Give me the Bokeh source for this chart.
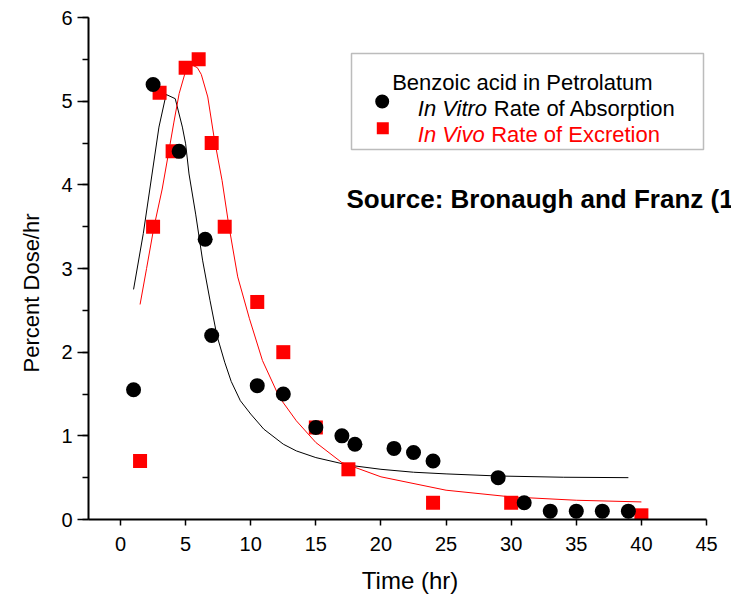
from bokeh.plotting import figure
from bokeh.models import Range1d, SingleIntervalTicker, Label, BoxAnnotation
from bokeh.embed import file_html
from bokeh.resources import INLINE

# ---- data ----
vitro_time = [1, 2.5, 4.5, 6.5, 7, 10.5, 12.5, 15, 17, 18, 21, 22.5, 24, 29, 31, 33, 35, 37, 39]
vitro_rate = [1.55, 5.2, 4.4, 3.35, 2.2, 1.6, 1.5, 1.1, 1.0, 0.9, 0.85, 0.8, 0.7, 0.5, 0.2, 0.1, 0.1, 0.1, 0.1]

vivo_time = [1.5, 2.5, 3, 4, 5, 6, 7, 8, 10.5, 12.5, 15, 17.5, 24, 30, 40]
vivo_rate = [0.7, 3.5, 5.1, 4.4, 5.4, 5.5, 4.5, 3.5, 2.6, 2.0, 1.1, 0.6, 0.2, 0.2, 0.05]

vitro_fit_time = [1.0, 1.75, 2.95, 3.5, 4.2, 4.75, 5.0, 5.26, 5.77, 6.3, 6.87, 7.4, 8.0, 8.5, 9.2,
                  10.0, 11.0, 12.5, 13.5, 15.0, 17.5, 20.0, 22.5, 25.0, 29.0, 34.0, 39.0]
vitro_fit_rate = [2.75, 3.42, 4.69, 5.08, 5.03, 4.69, 4.49, 4.13, 3.65, 3.1, 2.62, 2.2, 1.88, 1.65, 1.42,
                  1.26, 1.08, 0.90, 0.82, 0.74, 0.65, 0.60, 0.565, 0.545, 0.52, 0.505, 0.50]

vivo_fit_time = [1.5, 2.0, 2.56, 3.2, 3.72, 4.1, 4.5, 5.0, 5.4, 5.9, 6.2, 6.7, 7.2, 7.8, 8.3, 9.0,
                 9.9, 10.9, 12.2, 13.5, 15.0, 17.0, 20.0, 25.0, 30.0, 35.0, 40.0]
vivo_fit_rate = [2.57, 3.0, 3.49, 3.95, 4.41, 4.75, 5.09, 5.36, 5.44, 5.40, 5.32, 5.05, 4.55, 4.05, 3.53, 2.9,
                 2.4, 1.9, 1.46, 1.18, 0.92, 0.68, 0.51, 0.35, 0.27, 0.23, 0.21]

x_axis_end = 45
x_ticks_interval = 5
y_ticks_interval = 1

FONT = "Liberation Sans"
NBSP = "\u00a0"

p = figure(frame_width=643, frame_height=502,
           x_range=Range1d(-2.46, 46.92), y_range=Range1d(0, 6),
           output_backend="svg", toolbar_location=None,
           min_border_left=88, min_border_right=0, min_border_top=17, min_border_bottom=87,
           background_fill_color="white", border_fill_color="white", outline_line_color=None)

p.grid.visible = False

p.xaxis.ticker = SingleIntervalTicker(interval=x_ticks_interval, num_minor_ticks=0)
p.xaxis.bounds = (-2.46, x_axis_end)
p.yaxis.ticker = SingleIntervalTicker(interval=y_ticks_interval, num_minor_ticks=2)

for ax in p.axis:
    ax.axis_line_color = "black"
    ax.axis_line_width = 2
    ax.major_tick_line_color = "black"
    ax.major_tick_line_width = 1.5
    ax.major_tick_in = 0
    ax.major_label_text_font = FONT
    ax.major_label_text_font_size = "20px"
    ax.major_label_text_color = "black"
    ax.axis_label_text_font = FONT
    ax.axis_label_text_font_style = "normal"
    ax.axis_label_text_color = "black"

p.xaxis.major_tick_out = 6
p.xaxis.minor_tick_line_color = None
p.xaxis.major_label_standoff = 11
p.xaxis.axis_label = "Time (hr)"
p.xaxis.axis_label_text_font_size = "24px"
p.xaxis.axis_label_standoff = 13

p.yaxis.major_tick_out = 11
p.yaxis.minor_tick_out = 6
p.yaxis.minor_tick_in = 0
p.yaxis.minor_tick_line_color = "black"
p.yaxis.minor_tick_line_width = 1.5
p.yaxis.major_label_standoff = 5
# trailing no-break spaces shift the centred title downward, as in the reference
p.yaxis.axis_label = "Percent Dose/hr" + NBSP * 8
p.yaxis.axis_label_text_font_size = "22px"
p.yaxis.axis_label_standoff = 14

# fitted curves
p.line(vitro_fit_time, vitro_fit_rate, line_color="black", line_width=1)
p.line(vivo_fit_time, vivo_fit_rate, line_color="#ff0000", line_width=1)

# data points
p.scatter(vivo_time, vivo_rate, marker="square", size=14, fill_color="#ff0000", line_color=None)
p.scatter(vitro_time, vitro_rate, marker="circle", size=15, fill_color="black", line_color=None)

# legend (manual so that "In Vitro"/"In Vivo" can be italic)
def box(l, r, b, t, **kw):
    p.add_layout(BoxAnnotation(left=l, right=r, bottom=b, top=t,
                               left_units="screen", right_units="screen",
                               bottom_units="screen", top_units="screen", **kw))

box(263, 615, 370, 466, fill_alpha=0, line_color="#222222", line_width=1.5)
box(286.7, 300.7, 411, 425, border_radius=7, fill_color="black", fill_alpha=1, line_color=None)
box(288.3, 300.3, 385.3, 397.3, fill_color="#ff0000", fill_alpha=1, line_color=None)

def lab(text, x, y, size, color="black", style="normal", align="left"):
    p.add_layout(Label(x=x, y=y, x_units="screen", y_units="screen", text=text,
                       text_font=FONT, text_font_size=size, text_color=color,
                       text_font_style=style, text_align=align,
                       text_baseline="alphabetic"))

lab("Benzoic acid in Petrolatum", 303.7, 437.3, "22px")
lab("In Vitro", 329.3, 411, "22px", style="italic")
lab("Rate of Absorption", 405.3, 411, "22px")
lab("In Vivo", 329.3, 385, "22px", color="#ff0000", style="italic")
lab("Rate of Excretion", 402.7, 385, "22px", color="#ff0000")

lab("Source: Bronaugh and Franz (1986)", 258, 321, "26px", style="bold")

open("out.html", "w").write(file_html(p, INLINE))
